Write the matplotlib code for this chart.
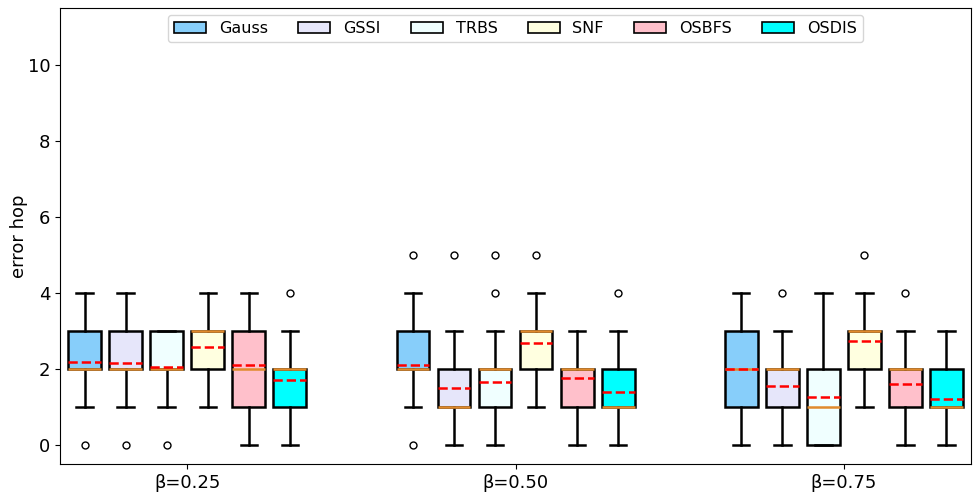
import numpy as np
import matplotlib
matplotlib.use('Agg')
import matplotlib.pyplot as plt
from matplotlib.patches import Patch

METHODS = ['Gauss', 'GSSI', 'TRBS', 'SNF', 'OSBFS', 'OSDIS']
colors = ['lightskyblue', 'lavender', 'azure', 'lightyellow', 'pink', 'cyan']
GROUPS = ['β=0.25', 'β=0.50', 'β=0.75']

# box statistics per group, one entry per method
whislo = [[1, 1, 1, 1, 0, 0],
          [1, 0, 0, 1, 0, 0],
          [0, 0, 0, 1, 0, 0]]
q1 = [[2, 2, 2, 2, 1, 1],
      [2, 1, 1, 2, 1, 1],
      [1, 1, 0, 2, 1, 1]]
med = [[2, 2, 2, 3, 2, 2],
       [2, 1, 2, 3, 2, 1],
       [2, 2, 1, 3, 2, 1]]
q3 = [[3, 3, 3, 3, 3, 2],
      [3, 2, 2, 3, 2, 2],
      [3, 2, 2, 3, 2, 2]]
whishi = [[4, 4, 3, 4, 4, 3],
          [4, 3, 3, 4, 3, 3],
          [4, 3, 4, 4, 3, 3]]
mean = [[2.19, 2.15, 2.06, 2.59, 2.10, 1.70],
        [2.10, 1.51, 1.66, 2.69, 1.77, 1.39],
        [1.99, 1.55, 1.27, 2.75, 1.60, 1.22]]
fliers = [[[0], [0], [0], [], [], [4]],
          [[0, 5], [5], [4, 5], [5], [], [4]],
          [[], [4], [], [5], [4], []]]

fig = plt.figure(figsize=(9.75, 4.95), dpi=100)
ax = fig.add_axes([0.0615, 0.0626, 0.9345, 0.921])

offsets = np.arange(6) - 2.5
centers = [0, 8, 16]
for g, c in enumerate(centers):
    stats = []
    for m in range(6):
        stats.append({'whislo': whislo[g][m], 'q1': q1[g][m], 'med': med[g][m],
                      'q3': q3[g][m], 'whishi': whishi[g][m], 'mean': mean[g][m],
                      'fliers': fliers[g][m]})
    bp = ax.bxp(stats, positions=c + offsets, widths=0.8, patch_artist=True,
                showmeans=True, meanline=True,
                boxprops=dict(edgecolor='black', linewidth=1.8),
                whiskerprops=dict(color='black', linewidth=1.8),
                capprops=dict(color='black', linewidth=1.8),
                medianprops=dict(color='#e08a2c', linewidth=1.8),
                meanprops=dict(color='red', linestyle='--', linewidth=1.8),
                flierprops=dict(marker='o', markersize=5, markerfacecolor='none',
                                markeredgecolor='black'))
    for patch, col in zip(bp['boxes'], colors):
        patch.set_facecolor(col)

ax.set_xlim(-3.1, 19.1)
ax.set_ylim(-0.5, 11.5)
ax.set_xticks(centers)
ax.set_xticklabels(GROUPS, fontsize=13)
ax.set_yticks([0, 2, 4, 6, 8, 10])
ax.tick_params(axis='y', labelsize=13)
ax.set_ylabel('error hop', fontsize=13, labelpad=0)

handles = [Patch(facecolor=col, edgecolor='black', linewidth=1.2, label=name)
           for col, name in zip(colors, METHODS)]
ax.legend(handles=handles, loc='upper center', ncol=6, fontsize=11.5,
          handlelength=2.0, columnspacing=1.9, borderaxespad=0.4)

plt.savefig('out.png')
